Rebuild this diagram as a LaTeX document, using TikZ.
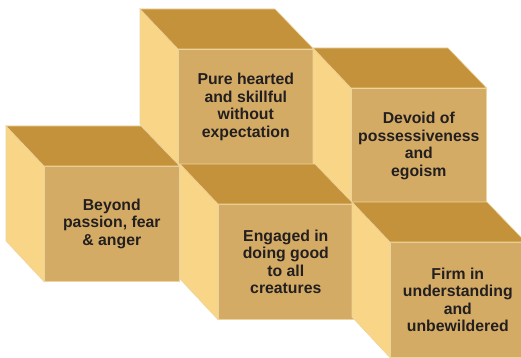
\documentclass[tikz,border=0pt]{standalone}
\usepackage{fontspec}
\setmainfont{Liberation Sans}
\definecolor{topc}{HTML}{C4923A}
\definecolor{leftc}{HTML}{F9D687}
\definecolor{frontc}{HTML}{D4AB64}
\definecolor{edgec}{HTML}{EDD49C}
\definecolor{textc}{HTML}{231F20}
\tikzset{
  front/.style={rectangle, anchor=north west, fill=frontc, draw=edgec, line width=0.6pt,
    minimum width=135pt, minimum height=115pt, inner sep=0pt, align=center,
    text=textc, font=\fontsize{15.8}{17.6}\selectfont\bfseries},
  topface/.style={fill=topc, draw=edgec, line width=0.6pt},
  leftface/.style={fill=leftc, draw=edgec, line width=0.6pt}
}
\newcommand{\mycube}[4]{%
  \node[front] (#1) at (#2,#3) {#4};
  \filldraw[leftface] (#1.north west) -- ++(-38,-40) -- ++(0,115) -- (#1.south west) -- cycle;
  \filldraw[topface] (#1.north west) -- ++(-38,-40) -- ++(135,0) -- (#1.north east) -- cycle;
}
\begin{document}
\begin{tikzpicture}[x=1pt,y=-1pt]
\clip (0,0) rectangle (521,358);
\fill[white] (0,0) rectangle (521,358);
\mycube{c1}{178}{49}{Pure hearted\\and skillful\\without\\expectation}
\mycube{c2}{351}{88}{Devoid of\\possessiveness\\and\\egoism}
\mycube{c3}{44}{166}{Beyond\\passion, fear\\\& anger}
\mycube{c4}{218}{204}{Engaged in\\doing good\\to all\\creatures}
\mycube{c5}{390}{242}{Firm in\\understanding\\and\\unbewildered}
\end{tikzpicture}
\end{document}
